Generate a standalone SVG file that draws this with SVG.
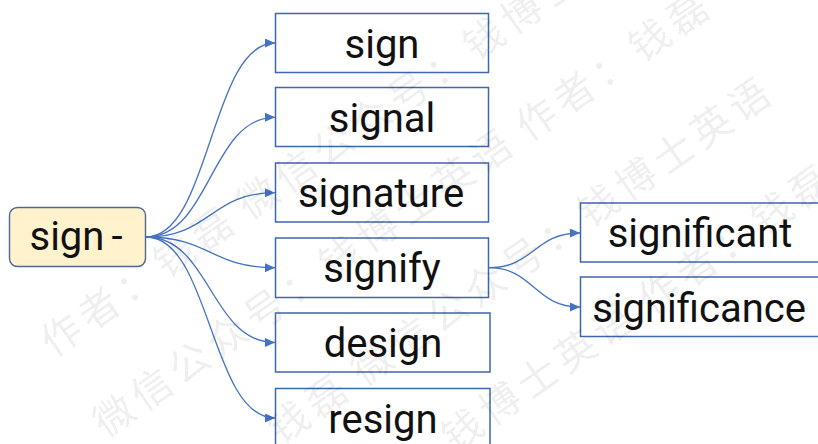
<svg xmlns="http://www.w3.org/2000/svg" width="818" height="444" viewBox="0 0 818 444">
<style>
.box{fill:#fff;stroke:#4066ad;stroke-width:1.5}
.root{fill:#fff2cc;stroke:#51678f;stroke-width:1.4}
.lbl{font-family:Roboto,"Liberation Sans",sans-serif;font-size:40px;fill:#111;text-anchor:middle}
.conn{fill:none;stroke:#4472c4;stroke-width:1.3}
.wm{font-family:"Noto Sans CJK SC","Noto Sans CJK JP",sans-serif;font-size:40px;letter-spacing:6px;fill:#000;fill-opacity:0.085}
</style>
<defs>
<marker id="arr" markerUnits="userSpaceOnUse" markerWidth="11" markerHeight="10" refX="10" refY="4.5" orient="auto">
<path d="M0,0 L10,4.5 L0,9 z" fill="#4472c4"/>
</marker>
</defs>
<rect width="818" height="444" fill="#fff"/>
<g id="connectors" class="conn" marker-end="url(#arr)">
<path d="M146,237 C210.5,237 210.5,43 275,43"/>
<path d="M146,237 C210.5,237 210.5,117.3 275,117.3"/>
<path d="M146,237 C210.5,237 210.5,192.7 275,192.7"/>
<path d="M146,237 C210.5,237 210.5,267.7 275,267.7"/>
<path d="M146,237 C210.5,237 210.5,342.5 275,342.5"/>
<path d="M146,237 C210.5,237 210.5,418 275,418"/>
<path d="M488.5,267.7 C534,267.7 534,233 580,233"/>
<path d="M488.5,267.7 C534,267.7 534,307 580,307"/>
</g>
<g id="node-sign-root"><rect class="root" x="9.5" y="207.5" width="136" height="59" rx="8"/><text class="lbl" x="76" y="250">sign<tspan dx="7">-</tspan></text></g>
<g id="node-sign"><rect class="box" x="275.5" y="13.5" width="213" height="59"/><text class="lbl" x="382" y="57.5">sign</text></g>
<g id="node-signal"><rect class="box" x="275.5" y="87.5" width="213" height="59"/><text class="lbl" x="382" y="131.5">signal</text></g>
<g id="node-signature"><rect class="box" x="275.5" y="163" width="213" height="59"/><text class="lbl" x="381" y="207">signature</text></g>
<g id="node-signify"><rect class="box" x="275.5" y="238" width="213" height="59.5"/><text class="lbl" x="382" y="282">signify</text></g>
<g id="node-design"><rect class="box" x="275.5" y="313" width="214.5" height="59"/><text class="lbl" x="383" y="357">design</text></g>
<g id="node-resign"><rect class="box" x="275.5" y="388.5" width="214.5" height="59"/><text class="lbl" x="383" y="432.5">resign</text></g>
<g id="node-significant"><rect class="box" x="580.5" y="203" width="240" height="59"/><text class="lbl" x="700" y="247">significant</text></g>
<g id="node-significance"><rect class="box" x="580.5" y="277" width="240" height="59.5"/><text class="lbl" x="699" y="321.5">significance</text></g>
<g id="watermark" class="wm" transform="rotate(-35)">
<text x="-162" y="324">作者：钱磊</text>
<text x="78" y="324">微信公众号：钱博士英语</text>
<text x="-165" y="420">微信公众号：钱博士英语</text>
<text x="351" y="420">作者：钱磊</text>
<text x="-164" y="526">作者：钱磊</text>
<text x="76" y="526">微信公众号：钱博士英语</text>
<text x="-164" y="632">微信公众号：钱博士英语</text>
<text x="352" y="632">作者：钱磊</text>
</g>
</svg>
